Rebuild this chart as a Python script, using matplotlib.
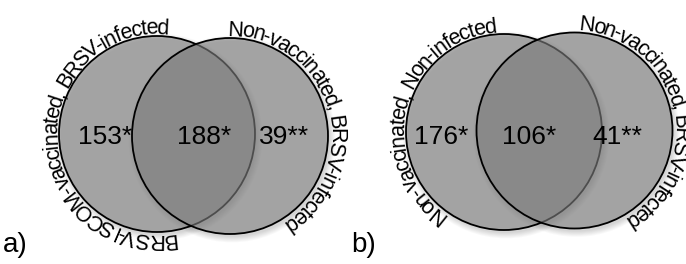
import numpy as np
import matplotlib
matplotlib.use("Agg")
import matplotlib.pyplot as plt
from matplotlib.patches import Circle
from matplotlib.font_manager import FontProperties
from matplotlib.textpath import TextToPath

# ---- data ----
panel_tags = ["a)", "b)"]
labels_a = ["BRSV-ISCOM-vaccinated, BRSV-infected", "Non-vaccinated, BRSV-infected"]
labels_b = ["Non-vaccinated, Non-infected", "Non-vaccinated, BRSV-infected"]
counts_a = ["153*", "188*", "39**"]
counts_b = ["176*", "106*", "41**"]

FONT = "Liberation Sans"
W, H = 686, 264
fig = plt.figure(figsize=(W / 100, H / 100), dpi=100)
ax = fig.add_axes([0, 0, 1, 1])
ax.set_xlim(0, W)
ax.set_ylim(H, 0)
ax.axis("off")

t2p = TextToPath()


def arc_text(text, cx, cy, R, start, end, size):
    fp = FontProperties(family=FONT, size=size)

    def w(s):
        return t2p.get_text_width_height_descent(s, fp, ismath=False)[0]

    ref = w("|")
    cum = [0.0] + [w(text[:i + 1] + "|") - ref for i in range(len(text))]
    total = cum[-1]
    for i, ch in enumerate(text):
        if ch == " ":
            continue
        f = (cum[i] + cum[i + 1]) / 2 / total
        th = np.deg2rad(start - f * (start - end))
        x = cx + R * np.cos(th)
        y = cy - R * np.sin(th)
        ax.text(x, y, ch, fontproperties=fp, rotation=np.rad2deg(th) - 90,
                rotation_mode="anchor", ha="center", va="baseline",
                color="black", zorder=10)


def venn(c1, c2, r, counts, labels, arcs, tag, tagpos, numpos):
    # soft shadow
    for (cx, cy) in (c1, c2):
        for k in range(7):
            ax.add_patch(Circle((cx + 2, cy + 3), r + k * 0.9, facecolor=(0, 0, 0, 0.025),
                                edgecolor="none", zorder=1))
    for (cx, cy) in (c1, c2):
        ax.add_patch(Circle((cx, cy), r, facecolor=(0.51, 0.51, 0.51, 0.6),
                            edgecolor="black", linewidth=1.3, zorder=2))
    for s, (x, y) in zip(counts, numpos):
        ax.text(x, y, s, fontsize=19, family=FONT, ha="center", va="center", zorder=5)
    for lab, (cx, cy), (a0, a1) in zip(labels, (c1, c2), arcs):
        arc_text(lab, cx, cy, r + 2, a0, a1, 15.5)
    ax.text(tagpos[0], tagpos[1], tag, fontsize=20, family=FONT, ha="left",
            va="baseline", zorder=5)


venn((157, 134), (230, 136), 98, counts_a, labels_a,
     [(280, 84), (91, -58)], panel_tags[0], (3, 252),
     [(105, 137), (204, 137), (284, 137)])
venn((504, 132), (574.5, 130.5), 98, counts_b, labels_b,
     [(235, 94.5), (87, -60)], panel_tags[1], (351, 252),
     [(441, 137), (529, 137), (617, 137)])

fig.savefig("out.png", dpi=100)
